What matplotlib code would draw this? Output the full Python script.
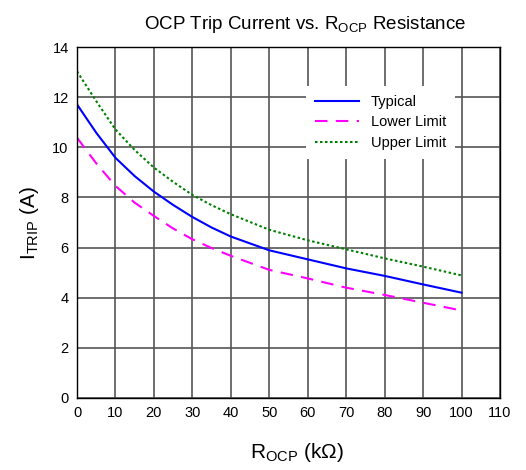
import numpy as np
import matplotlib
matplotlib.use('Agg')
import matplotlib.pyplot as plt

plt.rcParams['font.family'] = ['Liberation Sans', 'DejaVu Sans']
plt.rcParams['mathtext.fontset'] = 'custom'
plt.rcParams['mathtext.rm'] = 'Liberation Sans'

# R_OCP (kOhm)
r_ocp = [0, 5, 10, 15, 20, 25, 30, 35, 40, 50, 60, 70, 80, 90, 100]

# trip current (A)
typical = [11.71, 10.58, 9.58, 8.85, 8.23, 7.70, 7.22, 6.80, 6.44, 5.89, 5.53, 5.17, 4.87, 4.53, 4.20]
lower_limit = [10.38, 9.36, 8.46, 7.79, 7.26, 6.76, 6.33, 5.98, 5.67, 5.11, 4.77, 4.40, 4.11, 3.80, 3.49]
upper_limit = [13.03, 11.84, 10.71, 9.89, 9.19, 8.62, 8.10, 7.69, 7.33, 6.71, 6.29, 5.93, 5.57, 5.24, 4.89]

x_ticks = np.arange(0, 111, 10)
y_ticks = np.arange(0, 15, 2)

fig = plt.figure(figsize=(5.26, 4.70), dpi=100)
ax = fig.add_axes([0.1464, 0.1532, 0.8042, 0.7468])

ax.plot(r_ocp, typical, color='#0000ff', lw=1.5, label='Typical')
ax.plot(r_ocp, lower_limit, color='#ff00ff', lw=1.5, dashes=(6, 4), label='Lower Limit')
ax.plot(r_ocp, upper_limit, color='#008000', lw=1.5, dashes=(1.2, 1.2), label='Upper Limit')

ax.set_xlim(0, 110)
ax.set_ylim(0, 14)
ax.set_xticks(x_ticks)
ax.set_yticks(y_ticks)
ax.grid(True, color='#555555', lw=1.2)
ax.set_axisbelow(True)
ax.tick_params(length=0, pad=6, labelsize=10.5)
for s in ax.spines.values():
    s.set_color('black')
    s.set_linewidth(1.0)

ax.set_title('OCP Trip Current vs. R$_{\\mathrm{OCP}}$ Resistance', fontsize=13.5, pad=13, x=0.54)
ax.set_xlabel('R$_{\\mathrm{OCP}}$ (kΩ)', fontsize=15, labelpad=15, x=0.52)
ax.set_ylabel('I$_{\\mathrm{TRIP}}$ (A)', fontsize=15, labelpad=8)

leg = ax.legend(loc='upper right', bbox_to_anchor=(0.91, 0.91), fontsize=10.5,
                frameon=True, fancybox=False, framealpha=1, edgecolor='none',
                handlelength=3.0, borderpad=0.6, labelspacing=0.45)

fig.savefig('out.png', dpi=100)
